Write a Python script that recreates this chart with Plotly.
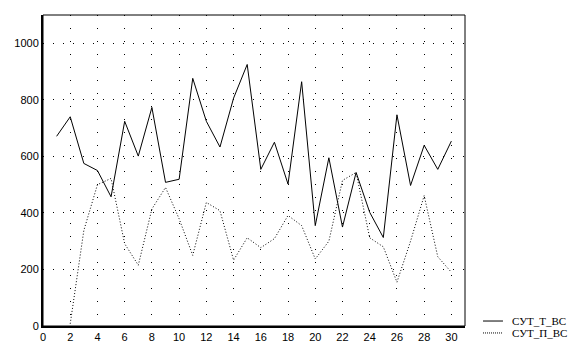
import plotly.graph_objects as go

days_t = list(range(1, 31))
sut_t_vs = [671, 740, 575, 550, 457, 724, 601, 773, 508, 519,
            876, 724, 633, 806, 925, 554, 650, 502, 864, 355,
            595, 350, 543, 402, 313, 747, 497, 639, 554, 654]

days_p = list(range(2, 31))
sut_p_vs = [8, 338, 500, 522, 291, 215, 414, 490, 379, 250,
            437, 408, 233, 312, 277, 309, 391, 355, 237, 300,
            515, 543, 312, 280, 155, 300, 461, 245, 190]

series_names = ["СУТ_Т_ВС", "СУТ_П_ВС"]
x_ticks = list(range(0, 31, 2))
y_ticks = list(range(0, 1001, 200))

fig = go.Figure()
fig.add_trace(go.Scatter(x=days_t, y=sut_t_vs, mode="lines", name=series_names[0],
                         line=dict(color="black", width=1), showlegend=False))
fig.add_trace(go.Scatter(x=days_p, y=sut_p_vs, mode="lines", name=series_names[1],
                         line=dict(color="black", width=1, dash="1px,2px"), showlegend=False))

fig.update_layout(
    width=576, height=355,
    margin=dict(l=43, r=111, t=15, b=27),
    paper_bgcolor="white", plot_bgcolor="white",
    font=dict(family="Liberation Sans, Arial, sans-serif", size=11, color="black"),
    showlegend=False,
)
fig.update_xaxes(range=[0, 31], tickvals=x_ticks, ticktext=[str(v) for v in x_ticks],
                 showgrid=True, gridcolor="black", gridwidth=1, griddash="1px,12px",
                 zeroline=False, showline=True, linecolor="black", linewidth=2,
                 mirror=False, ticks="", ticklen=0)
fig.update_yaxes(range=[0, 1100], tickvals=y_ticks, ticktext=[str(v) for v in y_ticks],
                 showgrid=True, gridcolor="black", gridwidth=1, griddash="1px,9px",
                 zeroline=False, showline=True, linecolor="black", linewidth=2,
                 mirror=False, ticks="", ticklen=0)
fig.add_shape(type="rect", xref="paper", yref="paper", x0=0, y0=0, x1=1, y1=1,
              line=dict(color="black", width=1), layer="above")

# manual legend (outside the plot area, bottom right)
legend_rows = [(0.016, "solid"), (-0.0224, "1px,1px")]
for (ly, dash), name in zip(legend_rows, series_names):
    fig.add_shape(type="line", xref="paper", yref="paper",
                  x0=1.0427, x1=1.090, y0=ly, y1=ly,
                  line=dict(color="black", width=1, dash=dash))
    fig.add_annotation(xref="paper", yref="paper", x=1.1066, y=ly, text=name,
                       showarrow=False, xanchor="left", yanchor="middle",
                       font=dict(family="Liberation Serif, Times New Roman, serif",
                                 size=11, color="black"))

fig.write_html("out.html")
